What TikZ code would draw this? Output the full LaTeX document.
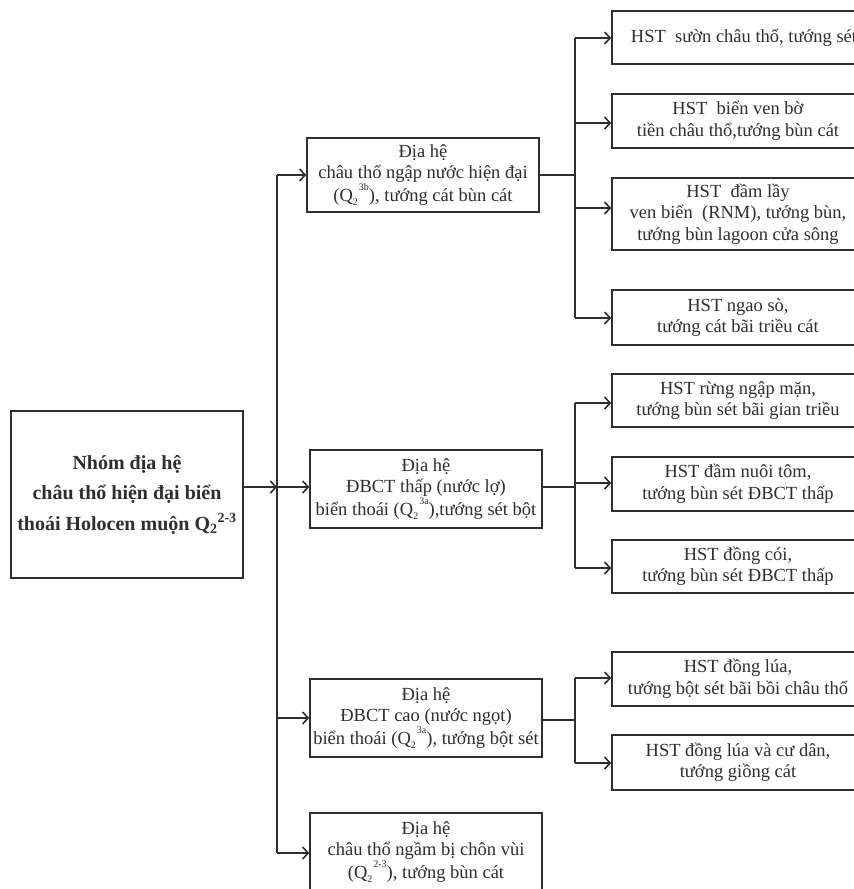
\documentclass[tikz,border=0pt]{standalone}
\usepackage{fontspec}
\setmainfont{Liberation Serif}
\usetikzlibrary{arrows.meta}
\definecolor{ink}{HTML}{2E2E2E}
\tikzset{
  box/.style={draw=ink, line width=1.6pt, align=center, inner sep=0pt, text=ink,
    font=\fontsize{18.5}{21.5}\selectfont},
  midbox/.style={box, minimum width=232pt},
  rbox/.style={box, minimum width=252pt},
  ln/.style={draw=ink, line width=1.6pt},
  arr/.style={ln, -{Straight Barb[length=5.5pt,width=12pt,line width=1.6pt]}}
}
\newcommand{\Qs}[2]{Q\textsubscript{#1}\textsuperscript{#2}}
\newcommand{\Qm}[2]{Q\raisebox{-0.2em}{\fontsize{10}{10}\selectfont #1}\kern1pt\raisebox{0.6em}{\fontsize{10}{10}\selectfont #2}}
\begin{document}
\begin{tikzpicture}[x=1pt,y=-1pt]
\useasboundingbox (0,0) rectangle (854,889);
\clip (0,0) rectangle (854,889);
\fill[white] (0,0) rectangle (854,889);

% main box
\node[box, minimum width=232pt, minimum height=167pt, font=\fontsize{20}{30.5}\selectfont\bfseries]
  (main) at (127,494.5) {Nhóm địa hệ\\châu thổ hiện đại biển\\thoái Holocen muộn \Qs{2}{2-3}};

% middle boxes
\node[midbox, minimum height=74pt] (A) at (423,175)
  {Địa hệ\\châu thổ ngập nước hiện đại\\(\Qm{2}{3b}), tướng cát bùn cát};
\node[midbox, minimum height=78pt] (B) at (426,489)
  {Địa hệ\\ĐBCT thấp (nước lợ)\\biển thoái (\Qm{2}{3a}),tướng sét bột};
\node[midbox, minimum height=78pt] (C) at (426,718)
  {Địa hệ\\ĐBCT cao (nước ngọt)\\biển thoái (\Qm{2}{3a}), tướng bột sét};
\node[midbox, minimum height=78pt] (D) at (426,852)
  {Địa hệ\\châu thổ ngầm bị chôn vùi\\(\Qm{2}{2-3}), tướng bùn cát};

% right boxes
\node[rbox, minimum height=53pt] (R1) at (738,37.5) {\hspace*{12pt}HST\ \ sườn châu thổ, tướng sét};
\node[rbox, minimum height=54pt] (R2) at (738,121) {HST\ \ biển ven bờ\\tiền châu thổ,tướng bùn cát};
\node[rbox, minimum height=72pt] (R3) at (738,214) {HST\ \ đầm lầy\\ven biển\ \ (RNM), tướng bùn,\\tướng bùn lagoon cửa sông};
\node[rbox, minimum height=55pt] (R4) at (738,317.5) {HST ngao sò,\\tướng cát bãi triều cát};
\node[rbox, minimum height=53pt] (R5) at (738,400.5) {HST rừng ngập mặn,\\tướng bùn sét bãi gian triều};
\node[rbox, minimum height=54pt] (R6) at (738,484) {HST đầm nuôi tôm,\\tướng bùn sét ĐBCT thấp};
\node[rbox, minimum height=53pt] (R7) at (738,566.5) {HST đồng cói,\\tướng bùn sét ĐBCT thấp};
\node[rbox, minimum height=54pt] (R8) at (738,679) {HST đồng lúa,\\tướng bột sét bãi bồi châu thổ};
\node[rbox, minimum height=55pt] (R9) at (738,762.5) {HST đồng lúa và cư dân,\\tướng giồng cát};

% trunk
\coordinate (t1) at (277,175);
\coordinate (t2) at (277,487);
\coordinate (t3) at (277,718);
\coordinate (t4) at (277,853);
\draw[ln] (t1) -- (t4);
\draw[arr] (main.east |- t2) -- (t2);
\draw[arr] (t1) -- (A.west |- t1);
\draw[arr] (t2) -- (B.west |- t2);
\draw[arr] (t3) -- (C.west |- t3);
\draw[arr] (t4) -- (D.west |- t4);

% group 1
\coordinate (g1) at (575,175);
\coordinate (a1) at (575,38);
\coordinate (a2) at (575,123);
\coordinate (a3) at (575,208);
\coordinate (a4) at (575,318);
\draw[ln] (A.east |- g1) -- (g1);
\draw[ln] (a1) -- (a4);
\draw[arr] (a1) -- (R1.west |- a1);
\draw[arr] (a2) -- (R2.west |- a2);
\draw[arr] (a3) -- (R3.west |- a3);
\draw[arr] (a4) -- (R4.west |- a4);

% group 2
\coordinate (g2) at (575,487);
\coordinate (b1) at (575,403);
\coordinate (b2) at (575,483);
\coordinate (b3) at (575,568);
\draw[ln] (B.east |- g2) -- (g2);
\draw[ln] (b1) -- (b3);
\draw[arr] (b1) -- (R5.west |- b1);
\draw[arr] (b2) -- (R6.west |- b2);
\draw[arr] (b3) -- (R7.west |- b3);

% group 3
\coordinate (g3) at (575,720);
\coordinate (c1) at (575,678);
\coordinate (c2) at (575,763);
\draw[ln] (C.east |- g3) -- (g3);
\draw[ln] (c1) -- (c2);
\draw[arr] (c1) -- (R8.west |- c1);
\draw[arr] (c2) -- (R9.west |- c2);
\end{tikzpicture}
\end{document}
